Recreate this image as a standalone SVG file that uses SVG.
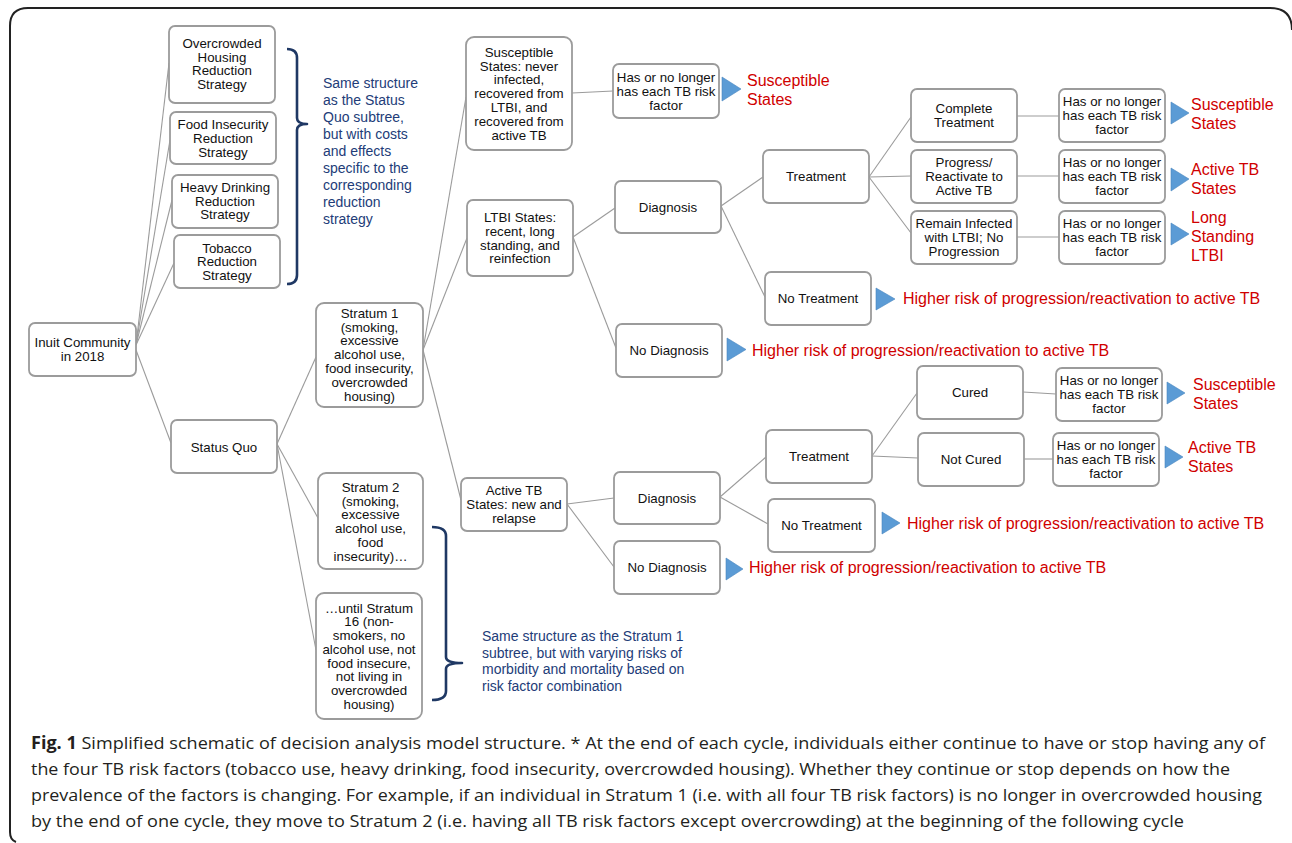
<svg xmlns="http://www.w3.org/2000/svg" width="1292" height="843" viewBox="0 0 1292 843">
<defs>
<style>
.box{fill:#fff;stroke:#9b9b9b;stroke-width:1.8}
.n{font-family:"Liberation Sans",Arial,sans-serif;font-size:13.3px;fill:#111;text-anchor:middle}
.r{font-family:"Liberation Sans",Arial,sans-serif;font-size:16px;fill:#d00000}
.b{font-family:"Liberation Sans",Arial,sans-serif;font-size:14px;fill:#223c78}
.cap{font-family:"Open Sans","Liberation Sans",sans-serif;font-size:17px;fill:#231f20}
.tri{fill:#5b9bd5;stroke:#4a86bf;stroke-width:0.6}
.br{fill:none;stroke:#1f3864;stroke-width:2.6;stroke-linejoin:round}
#connectors line{stroke:#9b9b9b;stroke-width:1.1}
</style>
</defs>
<rect width="1292" height="843" fill="#fff"/>
<path d="M1292,30 Q1292,8 1270,8 L28,8 Q10,8 10,26 L10,832 Q10,840 16,842" fill="none" stroke="#222" stroke-width="2"/>

<g id="connectors">
<line x1="136" y1="345" x2="169" y2="63"/>
<line x1="136" y1="345" x2="170" y2="140"/>
<line x1="136" y1="345" x2="172" y2="200"/>
<line x1="136" y1="345" x2="174" y2="263"/>
<line x1="136" y1="350" x2="171" y2="443"/>
<line x1="277" y1="444" x2="316" y2="357"/>
<line x1="277" y1="444" x2="318" y2="518"/>
<line x1="277" y1="444" x2="316" y2="650"/>
<line x1="423" y1="350" x2="466" y2="97"/>
<line x1="423" y1="350" x2="467" y2="238"/>
<line x1="423" y1="350" x2="461" y2="500"/>
<line x1="572" y1="93" x2="613" y2="91"/>
<line x1="573" y1="237" x2="615" y2="208"/>
<line x1="573" y1="237" x2="616" y2="348"/>
<line x1="721" y1="206" x2="763" y2="177"/>
<line x1="721" y1="206" x2="765" y2="297"/>
<line x1="869" y1="177" x2="911" y2="117"/>
<line x1="869" y1="177" x2="911" y2="176"/>
<line x1="869" y1="177" x2="911" y2="233"/>
<line x1="1017" y1="116" x2="1059" y2="116"/>
<line x1="1017" y1="176" x2="1059" y2="176"/>
<line x1="1017" y1="237" x2="1059" y2="237"/>
<line x1="567" y1="504" x2="614" y2="498"/>
<line x1="567" y1="504" x2="614" y2="567"/>
<line x1="720" y1="497" x2="766" y2="457"/>
<line x1="720" y1="497" x2="768" y2="524"/>
<line x1="872" y1="456" x2="917" y2="393"/>
<line x1="872" y1="456" x2="918" y2="458"/>
<line x1="1023" y1="392" x2="1056" y2="394"/>
<line x1="1024" y1="459" x2="1053" y2="459"/>
</g>

<g id="brackets">
<path class="br" d="M287,49 Q297,49 297,58 L297,118 Q297,124 307,124 Q297,124 297,130 L297,275 Q297,284 287,284"/>
<path class="br" d="M432,527 Q446,527 446,536 L446,657 Q446,663 462,663 Q446,663 446,669 L446,691 Q446,700 432,700"/>
</g>

<g id="n-overcrowded"><rect class="box" x="169" y="26" width="106" height="77" rx="6"/><text class="n" y="47.7"><tspan x="222">Overcrowded</tspan><tspan x="222" dy="13.85">Housing</tspan><tspan x="222" dy="13.85">Reduction</tspan><tspan x="222" dy="13.85">Strategy</tspan></text></g>
<g id="n-food"><rect class="box" x="170" y="112" width="106" height="52" rx="6"/><text class="n" y="129"><tspan x="223">Food Insecurity</tspan><tspan x="223" dy="13.85">Reduction</tspan><tspan x="223" dy="13.85">Strategy</tspan></text></g>
<g id="n-drinking"><rect class="box" x="172" y="175" width="106" height="53" rx="6"/><text class="n" y="191.7"><tspan x="225">Heavy Drinking</tspan><tspan x="225" dy="13.85">Reduction</tspan><tspan x="225" dy="13.85">Strategy</tspan></text></g>
<g id="n-tobacco"><rect class="box" x="174" y="235" width="106" height="53" rx="6"/><text class="n" y="252.5"><tspan x="227">Tobacco</tspan><tspan x="227" dy="13.85">Reduction</tspan><tspan x="227" dy="13.85">Strategy</tspan></text></g>
<g id="n-inuit"><rect class="box" x="29" y="323" width="107" height="53" rx="6"/><text class="n" y="346.7"><tspan x="82.5">Inuit Community</tspan><tspan x="82.5" dy="13.85">in 2018</tspan></text></g>
<g id="n-statusquo"><rect class="box" x="171" y="420" width="106" height="53" rx="6"/><text class="n" x="224" y="451.7">Status Quo</text></g>
<g id="n-stratum1"><rect class="box" x="316" y="303" width="107" height="104" rx="8"/><text class="n" y="317.7"><tspan x="369.5">Stratum 1</tspan><tspan x="369.5" dy="13.83">(smoking,</tspan><tspan x="369.5" dy="13.83">excessive</tspan><tspan x="369.5" dy="13.83">alcohol use,</tspan><tspan x="369.5" dy="13.83">food insecurity,</tspan><tspan x="369.5" dy="13.83">overcrowded</tspan><tspan x="369.5" dy="13.83">housing)</tspan></text></g>
<g id="n-stratum2"><rect class="box" x="318" y="473" width="105" height="96" rx="8"/><text class="n" y="491.7"><tspan x="370.5">Stratum 2</tspan><tspan x="370.5" dy="13.83">(smoking,</tspan><tspan x="370.5" dy="13.83">excessive</tspan><tspan x="370.5" dy="13.83">alcohol use,</tspan><tspan x="370.5" dy="13.83">food</tspan><tspan x="370.5" dy="13.83">insecurity)…</tspan></text></g>
<g id="n-stratum16"><rect class="box" x="316" y="593" width="106" height="126" rx="8"/><text class="n" y="612.7"><tspan x="369">…until Stratum</tspan><tspan x="369" dy="13.7">16 (non-</tspan><tspan x="369" dy="13.7">smokers, no</tspan><tspan x="369" dy="13.7">alcohol use, not</tspan><tspan x="369" dy="13.7">food insecure,</tspan><tspan x="369" dy="13.7">not living in</tspan><tspan x="369" dy="13.7">overcrowded</tspan><tspan x="369" dy="13.7">housing)</tspan></text></g>
<g id="n-susceptible"><rect class="box" x="466" y="37" width="106" height="113" rx="8"/><text class="n" y="56.7"><tspan x="519">Susceptible</tspan><tspan x="519" dy="13.83">States: never</tspan><tspan x="519" dy="13.83">infected,</tspan><tspan x="519" dy="13.83">recovered from</tspan><tspan x="519" dy="13.83">LTBI, and</tspan><tspan x="519" dy="13.83">recovered from</tspan><tspan x="519" dy="13.83">active TB</tspan></text></g>
<g id="n-has1"><rect class="box" x="613" y="64" width="106" height="54" rx="6"/><text class="n" y="81.8"><tspan x="666">Has or no longer</tspan><tspan x="666" dy="13.85">has each TB risk</tspan><tspan x="666" dy="13.85">factor</tspan></text></g>
<g id="n-ltbi"><rect class="box" x="467" y="200" width="106" height="76" rx="6"/><text class="n" y="221.9"><tspan x="520">LTBI States:</tspan><tspan x="520" dy="13.85">recent, long</tspan><tspan x="520" dy="13.85">standing, and</tspan><tspan x="520" dy="13.85">reinfection</tspan></text></g>
<g id="n-diag-u"><rect class="box" x="615" y="181" width="106" height="52" rx="6"/><text class="n" x="668" y="211.7">Diagnosis</text></g>
<g id="n-nodiag-u"><rect class="box" x="616" y="324" width="106" height="53" rx="6"/><text class="n" x="669" y="354.7">No Diagnosis</text></g>
<g id="n-treat-u"><rect class="box" x="763" y="150" width="106" height="53" rx="6"/><text class="n" x="816" y="180.7">Treatment</text></g>
<g id="n-notreat-u"><rect class="box" x="765" y="272" width="106" height="53" rx="6"/><text class="n" x="818" y="302.7">No Treatment</text></g>
<g id="n-complete"><rect class="box" x="911" y="89" width="106" height="53" rx="6"/><text class="n" y="113.3"><tspan x="964">Complete</tspan><tspan x="964" dy="13.85">Treatment</tspan></text></g>
<g id="n-progress"><rect class="box" x="911" y="150" width="106" height="53" rx="6"/><text class="n" y="167.3"><tspan x="964">Progress/</tspan><tspan x="964" dy="13.85">Reactivate to</tspan><tspan x="964" dy="13.85">Active TB</tspan></text></g>
<g id="n-remain"><rect class="box" x="911" y="211" width="106" height="53" rx="6"/><text class="n" y="228.3"><tspan x="964">Remain Infected</tspan><tspan x="964" dy="13.85">with LTBI; No</tspan><tspan x="964" dy="13.85">Progression</tspan></text></g>
<g id="n-hasA"><rect class="box" x="1059" y="89" width="106" height="53" rx="6"/><text class="n" y="106.3"><tspan x="1112">Has or no longer</tspan><tspan x="1112" dy="13.85">has each TB risk</tspan><tspan x="1112" dy="13.85">factor</tspan></text></g>
<g id="n-hasB"><rect class="box" x="1059" y="150" width="106" height="53" rx="6"/><text class="n" y="167.3"><tspan x="1112">Has or no longer</tspan><tspan x="1112" dy="13.85">has each TB risk</tspan><tspan x="1112" dy="13.85">factor</tspan></text></g>
<g id="n-hasC"><rect class="box" x="1059" y="211" width="106" height="53" rx="6"/><text class="n" y="228.3"><tspan x="1112">Has or no longer</tspan><tspan x="1112" dy="13.85">has each TB risk</tspan><tspan x="1112" dy="13.85">factor</tspan></text></g>
<g id="n-activetb"><rect class="box" x="461" y="478" width="106" height="53" rx="6"/><text class="n" y="495.3"><tspan x="514">Active TB</tspan><tspan x="514" dy="13.85">States: new and</tspan><tspan x="514" dy="13.85">relapse</tspan></text></g>
<g id="n-diag-l"><rect class="box" x="614" y="472" width="106" height="52" rx="6"/><text class="n" x="667" y="502.7">Diagnosis</text></g>
<g id="n-nodiag-l"><rect class="box" x="614" y="541" width="106" height="53" rx="6"/><text class="n" x="667" y="572.2">No Diagnosis</text></g>
<g id="n-treat-l"><rect class="box" x="766" y="430" width="106" height="53" rx="6"/><text class="n" x="819" y="461.2">Treatment</text></g>
<g id="n-notreat-l"><rect class="box" x="768" y="499" width="107" height="53" rx="6"/><text class="n" x="821.5" y="530.2">No Treatment</text></g>
<g id="n-cured"><rect class="box" x="917" y="366" width="106" height="53" rx="6"/><text class="n" x="970" y="397.2">Cured</text></g>
<g id="n-notcured"><rect class="box" x="918" y="433" width="106" height="53" rx="6"/><text class="n" x="971" y="464.2">Not Cured</text></g>
<g id="n-hasD"><rect class="box" x="1056" y="368" width="106" height="53" rx="6"/><text class="n" y="385.3"><tspan x="1109">Has or no longer</tspan><tspan x="1109" dy="13.85">has each TB risk</tspan><tspan x="1109" dy="13.85">factor</tspan></text></g>
<g id="n-hasE"><rect class="box" x="1053" y="433" width="106" height="53" rx="6"/><text class="n" y="450.3"><tspan x="1106">Has or no longer</tspan><tspan x="1106" dy="13.85">has each TB risk</tspan><tspan x="1106" dy="13.85">factor</tspan></text></g>

<g id="outcomes">
<polygon class="tri" points="722,77 741,89 722,101"/>
<polygon class="tri" points="1171,102 1189,113 1171,124"/>
<polygon class="tri" points="1171,168 1189,179 1171,191"/>
<polygon class="tri" points="1171,223 1189,234 1171,245"/>
<polygon class="tri" points="876,288 895,299 876,310"/>
<polygon class="tri" points="727,338 746,349.5 727,361"/>
<polygon class="tri" points="1167,382 1185,393 1167,404"/>
<polygon class="tri" points="1165,446 1183,457 1165,468"/>
<polygon class="tri" points="882,512 900,523 882,534"/>
<polygon class="tri" points="726,558 743,569 726,580"/>
<text class="r" y="85.7"><tspan x="747">Susceptible</tspan><tspan x="747" dy="19">States</tspan></text>
<text class="r" y="109.7"><tspan x="1191">Susceptible</tspan><tspan x="1191" dy="19">States</tspan></text>
<text class="r" y="174.7"><tspan x="1191">Active TB</tspan><tspan x="1191" dy="19">States</tspan></text>
<text class="r" y="222.7"><tspan x="1191">Long</tspan><tspan x="1191" dy="19">Standing</tspan><tspan x="1191" dy="19">LTBI</tspan></text>
<text class="r" x="903" y="303.7">Higher risk of progression/reactivation to active TB</text>
<text class="r" x="752" y="355.7">Higher risk of progression/reactivation to active TB</text>
<text class="r" y="389.7"><tspan x="1193">Susceptible</tspan><tspan x="1193" dy="19">States</tspan></text>
<text class="r" y="452.7"><tspan x="1188">Active TB</tspan><tspan x="1188" dy="19">States</tspan></text>
<text class="r" x="907" y="528.7">Higher risk of progression/reactivation to active TB</text>
<text class="r" x="749" y="572.7">Higher risk of progression/reactivation to active TB</text>
</g>

<g id="notes">
<text class="b" y="88.3"><tspan x="323">Same structure</tspan><tspan x="323" dy="16.9">as the Status</tspan><tspan x="323" dy="16.9">Quo subtree,</tspan><tspan x="323" dy="16.9">but with costs</tspan><tspan x="323" dy="16.9">and effects</tspan><tspan x="323" dy="16.9">specific to the</tspan><tspan x="323" dy="16.9">corresponding</tspan><tspan x="323" dy="16.9">reduction</tspan><tspan x="323" dy="16.9">strategy</tspan></text>
<text class="b" y="641"><tspan x="482">Same structure as the Stratum 1</tspan><tspan x="482" dy="16.7">subtree, but with varying risks of</tspan><tspan x="482" dy="16.7">morbidity and mortality based on</tspan><tspan x="482" dy="16.7">risk factor combination</tspan></text>
</g>

<g id="caption">
<text class="cap" x="31" y="749" textLength="1234" lengthAdjust="spacingAndGlyphs"><tspan font-weight="bold">Fig. 1</tspan> Simplified schematic of decision analysis model structure. * At the end of each cycle, individuals either continue to have or stop having any of</text>
<text class="cap" x="31" y="775" textLength="1199" lengthAdjust="spacingAndGlyphs">the four TB risk factors (tobacco use, heavy drinking, food insecurity, overcrowded housing). Whether they continue or stop depends on how the</text>
<text class="cap" x="31" y="801" textLength="1231" lengthAdjust="spacingAndGlyphs">prevalence of the factors is changing. For example, if an individual in Stratum 1 (i.e. with all four TB risk factors) is no longer in overcrowded housing</text>
<text class="cap" x="31" y="827" textLength="1153" lengthAdjust="spacingAndGlyphs">by the end of one cycle, they move to Stratum 2 (i.e. having all TB risk factors except overcrowding) at the beginning of the following cycle</text>
</g>
</svg>
